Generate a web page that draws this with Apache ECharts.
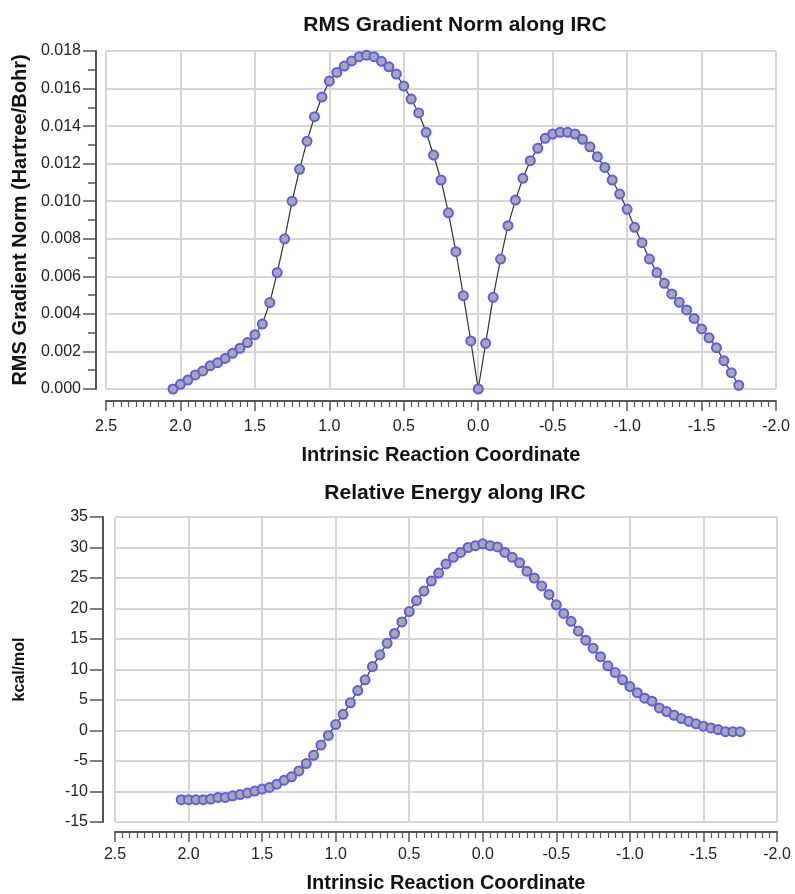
<!DOCTYPE html>
<html>
<head>
<meta charset="utf-8">
<script src="https://cdn.jsdelivr.net/npm/echarts@6/dist/echarts.min.js"></script>
<style>
html,body{margin:0;padding:0;background:#fff;}
#chart{width:795px;height:894px;}
</style>
</head>
<body>
<div id="chart"></div>
<script>
// Intrinsic reaction coordinate (shared by both panels)
var ircX = [2.05, 2.00, 1.95, 1.90, 1.85, 1.80, 1.75, 1.70, 1.65, 1.60, 1.55, 1.50, 1.45, 1.40, 1.35, 1.30, 1.25, 1.20, 1.15, 1.10, 1.05, 1.00, 0.95, 0.90, 0.85, 0.80, 0.75, 0.70, 0.65, 0.60, 0.55, 0.50, 0.45, 0.40, 0.35, 0.30, 0.25, 0.20, 0.15, 0.10, 0.05, 0.00,
  -0.05, -0.10, -0.15, -0.20, -0.25, -0.30, -0.35, -0.40, -0.45, -0.50, -0.55, -0.60, -0.65, -0.70, -0.75, -0.80, -0.85, -0.90, -0.95, -1.00, -1.05, -1.10, -1.15, -1.20, -1.25, -1.30, -1.35, -1.40, -1.45, -1.50, -1.55, -1.60, -1.65, -1.70, -1.75];

// RMS gradient norm (Hartree/Bohr)
var rmsGrad = [0.00000, 0.00025, 0.00048, 0.00075, 0.00096, 0.00124, 0.00140, 0.00163, 0.00190, 0.00217, 0.00247, 0.00289, 0.00346, 0.00460, 0.00620, 0.00800, 0.01000, 0.01170, 0.01320, 0.01450, 0.01555, 0.01640, 0.01686, 0.01720, 0.01747, 0.01770, 0.01778, 0.01770, 0.01745, 0.01716, 0.01677, 0.01613, 0.01544, 0.01470, 0.01367, 0.01246, 0.01113, 0.00938, 0.00731, 0.00497, 0.00256, 0.00000,
  0.00243, 0.00488, 0.00692, 0.00870, 0.01006, 0.01122, 0.01216, 0.01282, 0.01335, 0.01358, 0.01367, 0.01367, 0.01358, 0.01330, 0.01290, 0.01237, 0.01180, 0.01113, 0.01038, 0.00957, 0.00861, 0.00779, 0.00692, 0.00620, 0.00563, 0.00506, 0.00462, 0.00421, 0.00376, 0.00320, 0.00273, 0.00220, 0.00151, 0.00087, 0.00020];

// Relative energy (kcal/mol)
var relEnergy = [-11.35, -11.35, -11.35, -11.35, -11.24, -10.97, -10.97, -10.70, -10.50, -10.26, -9.93, -9.60, -9.34, -8.80, -8.14, -7.60, -6.62, -5.43, -4.07, -2.39, -0.81, 0.98, 2.65, 4.55, 6.55, 8.30, 10.48, 12.40, 14.30, 15.90, 17.80, 19.50, 21.30, 22.85, 24.50, 25.80, 27.30, 28.40, 29.20, 30.00, 30.30, 30.60,
  30.30, 30.10, 29.20, 28.40, 27.50, 26.10, 25.00, 23.70, 22.30, 20.60, 19.20, 17.90, 16.30, 14.80, 13.50, 12.10, 10.60, 9.50, 8.30, 7.20, 6.20, 5.30, 4.80, 3.70, 3.10, 2.50, 1.95, 1.50, 1.09, 0.70, 0.43, 0.16, -0.20, -0.20, -0.20];

var titles = ['RMS Gradient Norm along IRC', 'Relative Energy along IRC'];
var xName = 'Intrinsic Reaction Coordinate';
var yNames = ['RMS Gradient Norm (Hartree/Bohr)', 'kcal/mol'];

function pairs(xs, ys) {
  var out = [];
  for (var i = 0; i < xs.length; i++) out.push([xs[i], ys[i]]);
  return out;
}

var FONT = 'Liberation Sans, Arial, sans-serif';
var gridLine = { show: true, lineStyle: { color: '#d6d6d6', width: 2 } };
var axisLineStyle = { show: true, onZero: false, lineStyle: { color: '#555', width: 2 } };
var labelStyle = { color: '#222', fontSize: 16, fontFamily: FONT };
var nameStyle = { color: '#111', fontSize: 20, fontWeight: 'bold', fontFamily: FONT };

function xAxisDef(gridIndex, offset, margin, gap) {
  return {
    type: 'value', gridIndex: gridIndex, inverse: true,
    min: -2.0, max: 2.5, interval: 0.5, position: 'bottom', offset: offset,
    name: xName, nameLocation: 'middle', nameGap: gap, nameTextStyle: nameStyle,
    axisLine: axisLineStyle,
    axisTick: { show: true, length: 10, lineStyle: { color: '#555', width: 1.5 } },
    minorTick: { show: true, splitNumber: 10, length: 6, lineStyle: { color: '#555', width: 1.2 } },
    axisLabel: Object.assign({ margin: margin, formatter: function (v) { return v.toFixed(1); } }, labelStyle),
    splitLine: gridLine
  };
}

var seriesStyle = {
  type: 'line', showSymbol: true, showAllSymbol: true, symbol: 'circle', symbolSize: 9,
  itemStyle: { color: '#a8a8a8', borderColor: '#5c5cf0', borderWidth: 2 },
  lineStyle: { color: '#333', width: 1.2 },
  emphasis: { disabled: true }
};

var chart = echarts.init(document.getElementById('chart'), null, { renderer: 'canvas' });
chart.setOption({
  animation: false,
  backgroundColor: '#fff',
  title: [
    { text: titles[0], left: 450, top: 10, textAlign: 'center', textStyle: { fontSize: 21, fontWeight: 'bold', color: '#111', fontFamily: FONT } },
    { text: titles[1], left: 450, top: 478, textAlign: 'center', textStyle: { fontSize: 21, fontWeight: 'bold', color: '#111', fontFamily: FONT } }
  ],
  grid: [
    { left: 106, top: 51, width: 670, height: 338 },
    { left: 115, top: 517, width: 662, height: 307 }
  ],
  xAxis: [
    xAxisDef(0, 12, 18, 44),
    xAxisDef(1, 10, 15, 41)
  ],
  yAxis: [
    {
      type: 'value', gridIndex: 0, min: 0, max: 0.018, interval: 0.002, offset: 10,
      name: yNames[0], nameLocation: 'middle', nameGap: 66, nameRotate: 90, nameTextStyle: nameStyle,
      axisLine: axisLineStyle,
      axisTick: { show: true, length: 13, lineStyle: { color: '#555', width: 1.5 } },
      minorTick: { show: true, splitNumber: 2, length: 8, lineStyle: { color: '#555', width: 1.5 } },
      axisLabel: Object.assign({ margin: 15, formatter: function (v) { return v.toFixed(3); } }, labelStyle),
      splitLine: gridLine
    },
    {
      type: 'value', gridIndex: 1, min: -15, max: 35, interval: 5, offset: 12,
      name: yNames[1], nameLocation: 'middle', nameGap: 75, nameRotate: 90,
      nameTextStyle: { color: '#111', fontSize: 16, fontWeight: 'bold', fontFamily: FONT },
      axisLine: axisLineStyle,
      axisTick: { show: true, length: 13, lineStyle: { color: '#555', width: 1.5 } },
      axisLabel: Object.assign({ margin: 15, formatter: function (v) { return String(v); } }, labelStyle),
      splitLine: gridLine
    }
  ],
  series: [
    Object.assign({ xAxisIndex: 0, yAxisIndex: 0, data: pairs(ircX, rmsGrad) }, seriesStyle),
    Object.assign({ xAxisIndex: 1, yAxisIndex: 1, data: pairs(ircX, relEnergy) }, seriesStyle)
  ]
});
</script>
</body>
</html>
